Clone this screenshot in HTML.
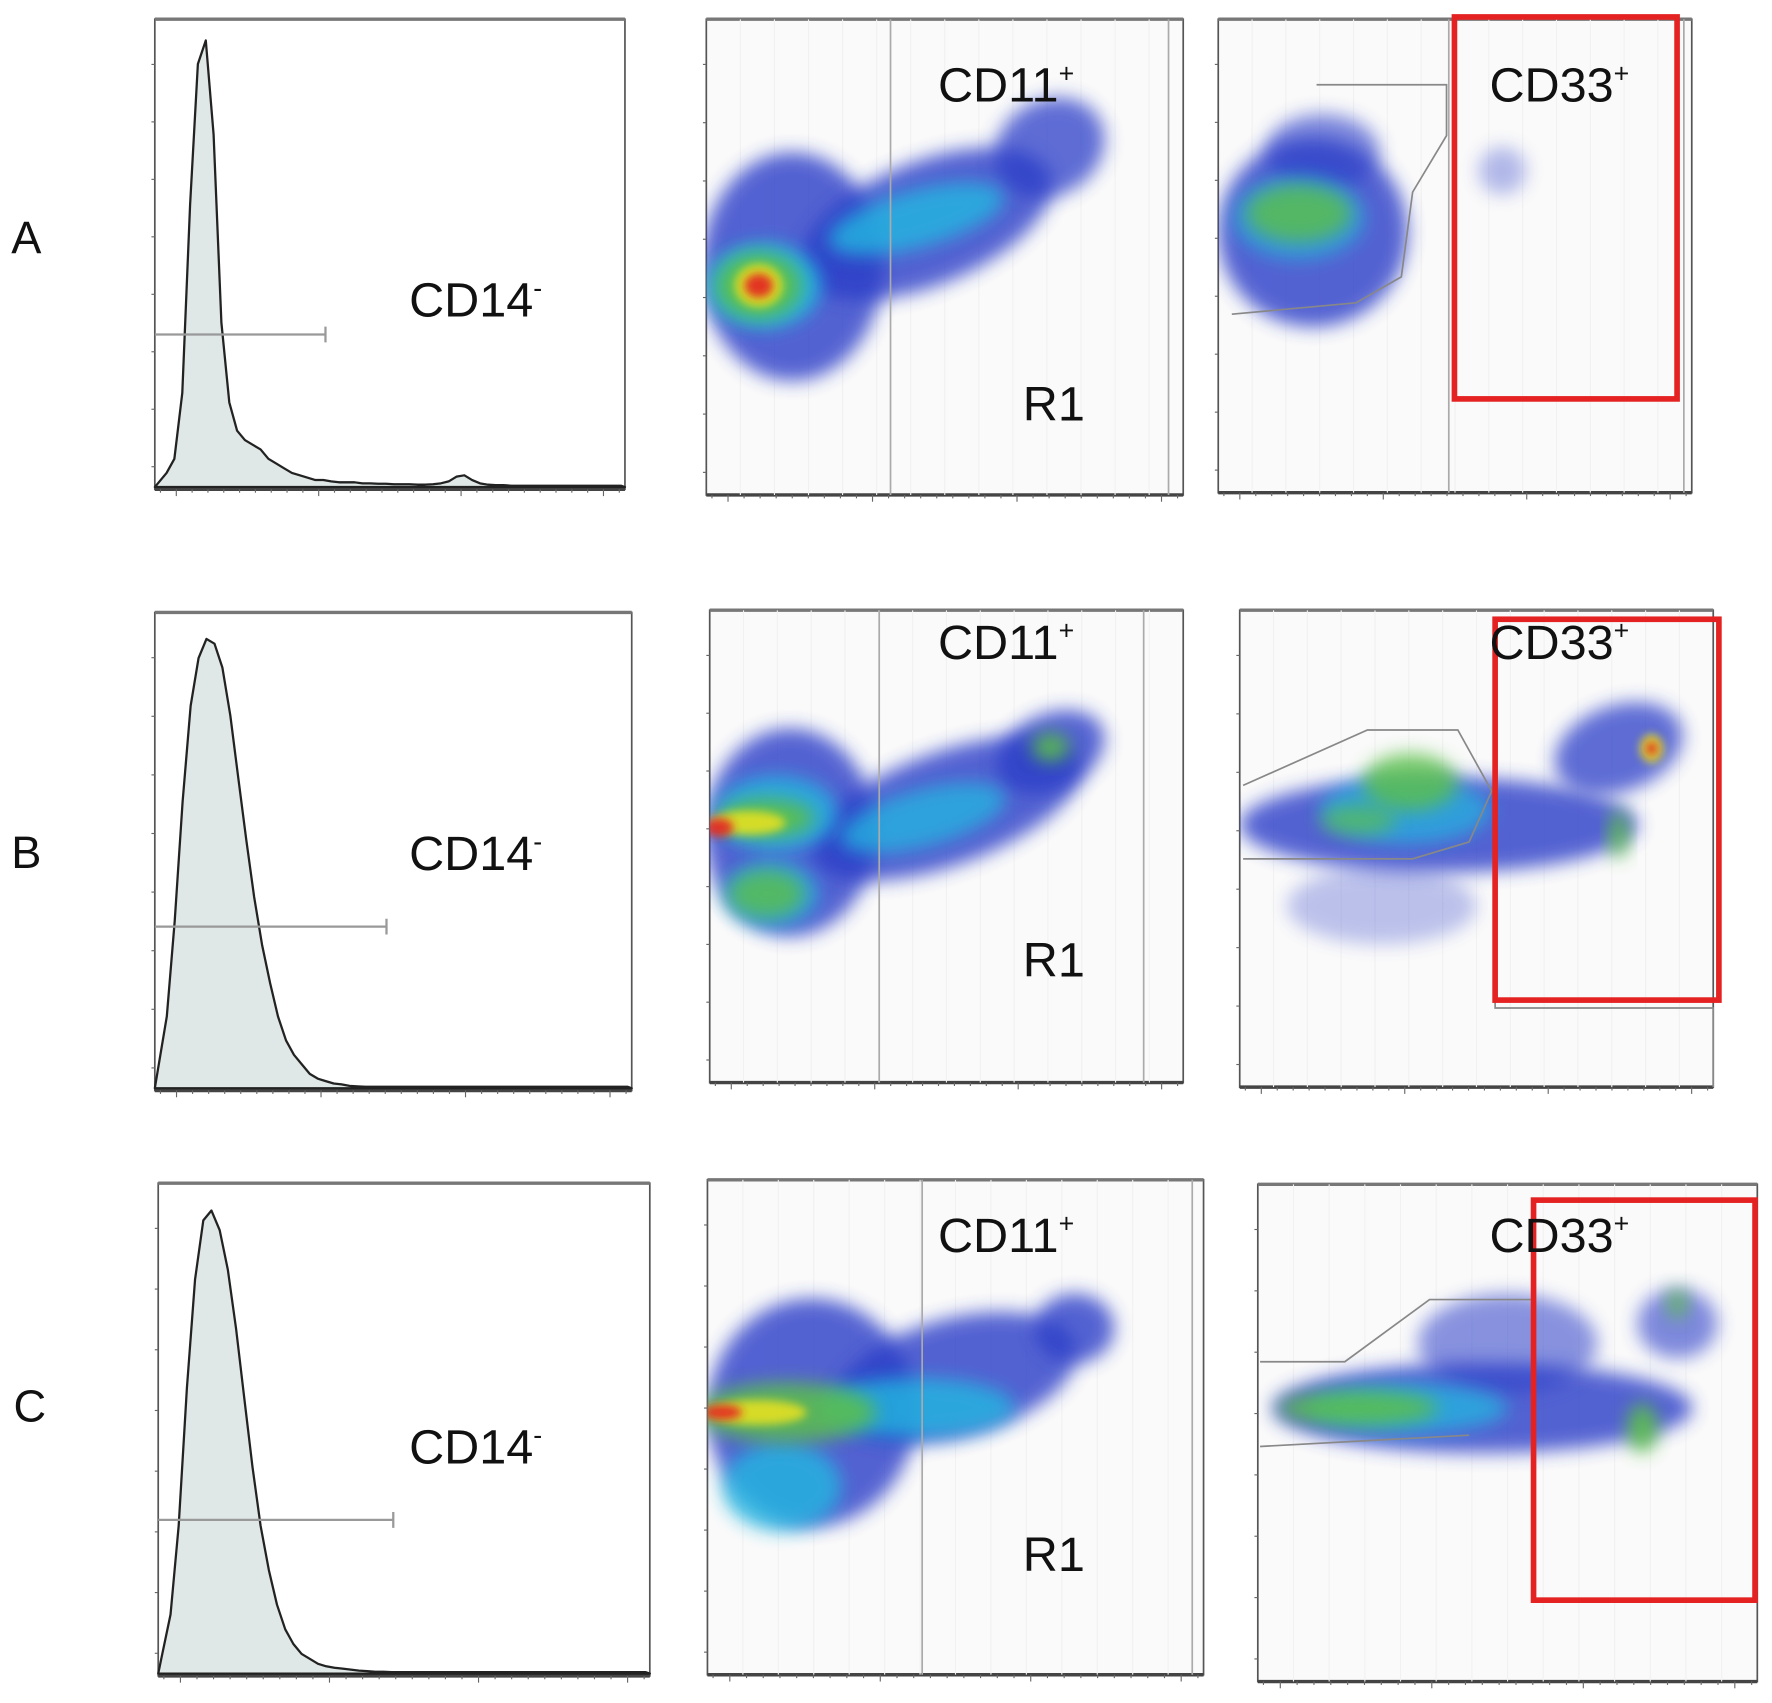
<!DOCTYPE html>
<html><head><meta charset="utf-8"><style>
html,body{margin:0;padding:0;background:#fff}
svg{display:block}
text{font-family:"Liberation Sans",sans-serif;fill:#111}
</style></head><body>
<svg id="fig" width="1772" height="1703" viewBox="0 0 1568 1507" preserveAspectRatio="none" xmlns="http://www.w3.org/2000/svg">
<defs>
<filter id="blur" x="-50%" y="-50%" width="200%" height="200%"><feGaussianBlur stdDeviation="8"/></filter>
<filter id="blur2" x="-50%" y="-50%" width="200%" height="200%"><feGaussianBlur stdDeviation="4"/></filter>
</defs>
</svg>
<script>
// ---- Data ----
// Histograms: 60 bins across x range, values = % of panel height
const histA = [1,3,6,20,60,90,95,75,35,18,12,10,9,8,6,5,4,3,2.5,2,1.5,1.5,1.2,1,1,1,0.8,0.8,0.7,0.7,0.6,0.6,0.6,0.5,0.5,0.6,0.8,1.2,2.2,2.5,1.5,0.8,0.5,0.4,0.4,0.3,0.3,0.3,0.3,0.3,0.3,0.3,0.3,0.3,0.3,0.3,0.3,0.3,0.3,0.3];
const histB = [5,15,35,60,80,90,94,93,88,78,65,52,40,30,22,15,10,7,5,3,2,1.5,1,0.8,0.5,0.4,0.3,0.3,0.3,0.3,0.3,0.3,0.3,0.3,0.3,0.3,0.3,0.3,0.3,0.3,0.3,0.3,0.3,0.3,0.3,0.3,0.3,0.3,0.3,0.3,0.3,0.3,0.3,0.3,0.3,0.3,0.3,0.3,0.3,0.3];
const histC = [4,12,30,58,80,92,94,90,82,70,56,42,30,21,14,9,6,4,3,2,1.5,1.2,1,0.8,0.6,0.5,0.4,0.4,0.3,0.3,0.3,0.3,0.3,0.3,0.3,0.3,0.3,0.3,0.3,0.3,0.3,0.3,0.3,0.3,0.3,0.3,0.3,0.3,0.3,0.3,0.3,0.3,0.3,0.3,0.3,0.3,0.3,0.3,0.3,0.3];
// Density clusters: [cx, cy, rx, ry, rotation, level, opacity] in panel fractions
const clustA2 = [[0.18,0.52,0.19,0.24,0,0,0.8],[0.46,0.43,0.28,0.13,-22,0,0.8],[0.72,0.27,0.12,0.1,-30,0,0.75],[0.44,0.42,0.19,0.06,-15,1,0.8],[0.12,0.56,0.12,0.09,0,1,0.9],[0.11,0.56,0.09,0.07,0,2,0.9],[0.11,0.56,0.05,0.045,0,3,0.9],[0.11,0.56,0.03,0.025,0,4,0.9]];
const clustA3 = [[0.2,0.45,0.2,0.2,0,0,0.8],[0.22,0.28,0.12,0.08,0,0,0.6],[0.6,0.32,0.05,0.05,0,0,0.35],[0.17,0.42,0.14,0.09,0,1,0.6],[0.17,0.41,0.11,0.06,0,2,0.8]];
const clustB2 = [[0.17,0.47,0.18,0.22,0,0,0.8],[0.5,0.42,0.3,0.12,-20,0,0.8],[0.72,0.3,0.12,0.08,-25,0,0.8],[0.45,0.44,0.18,0.06,-15,1,0.75],[0.14,0.43,0.13,0.08,0,1,0.8],[0.13,0.6,0.1,0.07,0,1,0.7],[0.12,0.44,0.1,0.04,0,2,0.9],[0.12,0.6,0.08,0.05,0,2,0.8],[0.72,0.29,0.04,0.03,0,2,0.9],[0.08,0.45,0.08,0.025,0,3,0.9],[0.02,0.46,0.03,0.02,0,4,0.9]];
const clustB3 = [[0.42,0.45,0.42,0.1,0,0,0.8],[0.3,0.62,0.2,0.08,0,0,0.3],[0.8,0.29,0.14,0.09,-20,0,0.75],[0.35,0.42,0.18,0.07,0,1,0.7],[0.36,0.36,0.1,0.06,0,2,0.8],[0.25,0.44,0.08,0.03,0,2,0.7],[0.8,0.47,0.02,0.05,0,2,0.9],[0.87,0.29,0.025,0.03,0,3,0.9],[0.87,0.29,0.012,0.014,0,4,0.9]];
const clustC2 = [[0.21,0.47,0.21,0.23,0,0,0.8],[0.5,0.4,0.25,0.12,-15,0,0.8],[0.74,0.3,0.08,0.07,0,0,0.8],[0.42,0.46,0.2,0.06,0,1,0.8],[0.15,0.62,0.12,0.09,0,1,0.8],[0.16,0.47,0.18,0.06,0,2,0.85],[0.1,0.47,0.1,0.025,0,3,0.9],[0.03,0.47,0.04,0.015,0,4,0.9]];
const clustC3 = [[0.45,0.45,0.42,0.09,0,0,0.8],[0.5,0.32,0.18,0.1,0,0,0.55],[0.84,0.28,0.08,0.07,0,0,0.6],[0.3,0.45,0.2,0.05,0,1,0.75],[0.2,0.45,0.16,0.035,0,2,0.85],[0.77,0.49,0.03,0.05,0,2,0.9],[0.84,0.24,0.02,0.03,0,2,0.8]];

const levelColors = ['#2a3cc8','#22b8e0','#5cc04a','#e4e020','#e42020'];
const NS='http://www.w3.org/2000/svg';
const svg=document.getElementById('fig');
function mk(tag,attrs,parent){const e=document.createElementNS(NS,tag);for(const k in attrs)e.setAttribute(k,attrs[k]);(parent||svg).appendChild(e);return e;}
function txt(x,y,s,size,sup,name){const t=mk('text',{x:x,y:y,'font-size':size});


t.textContent=s;if(sup){const ts=mk('tspan',{'font-size':size*0.55,dy:-size*0.4},t);ts.textContent=sup;}return t;}

function axesBox(x0,y0,x1,y1,name,bg){
  const g=mk('g',{});
  
  
  mk('rect',{x:x0,y:y0,width:x1-x0,height:y1-y0,fill:bg||'#fff',stroke:'#555','stroke-width':1.5},g);
  mk('line',{x1:x0,y1:y0,x2:x1,y2:y0,stroke:'#777','stroke-width':3},g);
  mk('line',{x1:x0,y1:y1,x2:x1,y2:y1,stroke:'#444','stroke-width':3},g);
  for(let i=0;i<30;i++){const tx=x0+5+i*(x1-x0-10)/29;mk('line',{x1:tx,y1:y1,x2:tx,y2:y1+(i%9==1?6:3),stroke:'#666','stroke-width':1},g);}
  for(let i=0;i<8;i++){const ty=y0+40+i*(y1-y0-60)/7;mk('line',{x1:x0,y1:ty,x2:x0-3,y2:ty,stroke:'#666','stroke-width':1},g);}
  return g;
}
function histogram(vals,x0,y0,x1,y1,name,gateY,gateX){
  axesBox(x0,y0,x1,y1,name+'-frame');
  const sx=i=>x0+(i+0.5)*(x1-x0)/vals.length;
  const sy=v=>y1-2-v/100*(y1-y0);
  let d='M'+x0+','+(y1-2);
  vals.forEach((v,i)=>{d+=' L'+sx(i).toFixed(1)+','+sy(v).toFixed(1);});
  d+=' L'+x1+','+(y1-2);
  const p=mk('path',{d:d+' Z',fill:'#dfe8e6',stroke:'#222','stroke-width':2,'stroke-linejoin':'round'});
  
  
  const gl=mk('path',{d:`M${x0},${gateY} H${gateX} M${gateX},${gateY-7} V${gateY+7}`,stroke:'#999','stroke-width':2,fill:'none'});
  
  
}
let clipId=0;
function scatter(cl,x0,y0,x1,y1,name){
  axesBox(x0,y0,x1,y1,name+'-frame','#fafafa');
  const cid='c'+(clipId++);
  const cp=mk('clipPath',{id:cid});mk('rect',{x:x0,y:y0,width:x1-x0,height:y1-y0},cp);
  const g=mk('g',{'clip-path':'url(#'+cid+')'});
  
  
  for(let i=1;i<14;i++){mk('line',{x1:x0+i*(x1-x0)/14,y1:y0,x2:x0+i*(x1-x0)/14,y2:y1,stroke:'#f1f1f1','stroke-width':1},g);}
  const X=f=>x0+f*(x1-x0), Y=f=>y0+f*(y1-y0);
  cl.forEach(c=>{
    const e=mk('ellipse',{cx:X(c[0]),cy:Y(c[1]),rx:c[2]*(x1-x0),ry:c[3]*(y1-y0),fill:levelColors[c[5]],
      opacity:c[6],filter:c[5]>=3?'url(#blur2)':'url(#blur)',transform:`rotate(${c[4]} ${X(c[0])} ${Y(c[1])})`},g);
    
    
  });
  return g;
}
function vline(x,y0,y1,name){const l=mk('line',{x1:x,y1:y0,x2:x,y2:y1,stroke:'#aaa','stroke-width':1.5});

}
function poly(pts,name){const p=mk('polyline',{points:pts,fill:'none',stroke:'#888','stroke-width':1.5});

}
function redBox(x0,y0,x1,y1,name){const r=mk('rect',{x:x0,y:y0,width:x1-x0,height:y1-y0,fill:'none',stroke:'#e42222','stroke-width':5});

}

// Row A
txt(10,224,'A',40,null,'row-label-a');
histogram(histA,137,17,553,433,'hist-a',296,288);
txt(362,280,'CD14',43,'-','label-cd14-a');
scatter(clustA2,625,17,1047,438,'scatter-cd11-a');
vline(788,17,438,'gate-line-cd11-a');vline(1034,17,438,'gate-line-right-a');
txt(830,90,'CD11',43,'+','label-cd11-a');txt(905,372,'R1',43,null,'label-r1-a');
scatter(clustA3,1078,17,1497,436,'scatter-cd33-a');
vline(1282,17,436,'gate-line-cd33-a');vline(1490,17,436,'gate-line-right-cd33-a');
poly('1165,75 1280,75 1280,120 1250,170 1240,245 1200,268 1090,278','gate-polygon-a');
redBox(1287,15,1484,353,'cd33-gate-box-a');
txt(1318,90,'CD33',43,'+','label-cd33-a');

// Row B
txt(10,768,'B',40,null,'row-label-b');
histogram(histB,137,542,559,965,'hist-b',820,342);
txt(362,770,'CD14',43,'-','label-cd14-b');
scatter(clustB2,628,540,1047,958,'scatter-cd11-b');
vline(778,540,958,'gate-line-cd11-b');vline(1012,540,958,'gate-line-right-b');
txt(830,583,'CD11',43,'+','label-cd11-b');txt(905,864,'R1',43,null,'label-r1-b');
scatter(clustB3,1097,540,1516,962,'scatter-cd33-b');
poly('1100,695 1210,646 1290,646 1320,700 1300,745 1250,760 1100,760','gate-polygon-b');
poly('1323,885 1323,892 1516,892 1516,962','gate-outline-b');
redBox(1323,548,1521,885,'cd33-gate-box-b');
txt(1318,583,'CD33',43,'+','label-cd33-b');

// Row C
txt(12,1258,'C',40,null,'row-label-c');
histogram(histC,140,1047,575,1483,'hist-c',1345,348);
txt(362,1295,'CD14',43,'-','label-cd14-c');
scatter(clustC2,626,1044,1065,1482,'scatter-cd11-c');
vline(816,1044,1482,'gate-line-cd11-c');vline(1055,1044,1482,'gate-line-right-c');
txt(830,1108,'CD11',43,'+','label-cd11-c');txt(905,1390,'R1',43,null,'label-r1-c');
scatter(clustC3,1113,1048,1555,1488,'scatter-cd33-c');
poly('1115,1205 1190,1205 1265,1150 1355,1150','gate-polygon-c-top');
poly('1115,1280 1300,1270','gate-polygon-c-bottom');
redBox(1357,1062,1553,1416,'cd33-gate-box-c');
txt(1318,1108,'CD33',43,'+','label-cd33-c');
</script>
</body></html>
